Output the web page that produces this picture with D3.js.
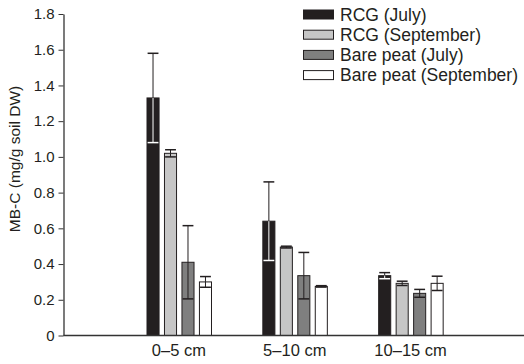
<!DOCTYPE html>
<html>
<head>
<meta charset="utf-8">
<script src="https://cdn.jsdelivr.net/npm/d3@7"></script>
<style>
  body { margin: 0; background: #fff; }
  svg { font-family: "Liberation Sans", Arial, sans-serif; }
</style>
</head>
<body>
<div id="chart"></div>
<script>
const categories = ['0–5 cm', '5–10 cm', '10–15 cm'];
const seriesNames = ['RCG (July)', 'RCG (September)', 'Bare peat (July)', 'Bare peat (September)'];
const rcgJuly = [1.33, 0.64, 0.335];
const rcgJulyErr = [0.25, 0.22, 0.017];
const rcgSep = [1.02, 0.495, 0.292];
const rcgSepErr = [0.02, 0.005, 0.012];
const bareJuly = [0.41, 0.335, 0.236];
const bareJulyErr = [0.205, 0.13, 0.022];
const bareSep = [0.3, 0.275, 0.292];
const bareSepErr = [0.03, 0.004, 0.04];
const yTicks = [0, 0.2, 0.4, 0.6, 0.8, 1.0, 1.2, 1.4, 1.6, 1.8];

const fills = ['#231f20', '#c6c6c6', '#7f7f7f', '#ffffff'];
const innerErrColor = ['#ffffff', '#231f20', '#231f20', '#231f20'];
const values = [rcgJuly, rcgSep, bareJuly, bareSep];
const errors = [rcgJulyErr, rcgSepErr, bareJulyErr, bareSepErr];

const width = 524;
const height = 364;
const axisX = 63.5;
const zeroY = 335.5;

const svg = d3.select('#chart').append('svg')
    .attr('width', width).attr('height', height);

const y = d3.scaleLinear().domain([0, 1.8]).range([zeroY, 14]);
const x0 = d3.scaleBand().domain(categories).range([121, 468.5]);
const x1 = d3.scaleBand().domain(seriesNames).range([26, 90.5]).paddingInner(0.31);

// flatten into bar records
const bars = [];
categories.forEach((c, i) => {
    seriesNames.forEach((s, j) => {
        bars.push({cat: c, series: s, idx: j, value: values[j][i], err: errors[j][i]});
    });
});

// bars
svg.append('g').selectAll('rect').data(bars).enter()
    .append('rect')
    .attr('x', (d) => x0(d.cat) + x1(d.series))
    .attr('y', (d) => y(d.value))
    .attr('width', x1.bandwidth())
    .attr('height', (d) => y(0) - y(d.value))
    .attr('fill', (d) => fills[d.idx])
    .attr('stroke', '#231f20')
    .attr('stroke-width', 1);

// error bars: upper half always dark, lower half (inside the bar) white on the darkest bar
const capW = x1.bandwidth() * 0.9;
const err = svg.append('g').selectAll('g').data(bars).enter().append('g')
    .attr('transform', (d) => 'translate(' + (x0(d.cat) + x1(d.series) + x1.bandwidth() / 2) + ',0)');

err.append('line')
    .attr('y1', (d) => y(d.value)).attr('y2', (d) => y(d.value + d.err))
    .attr('stroke', '#231f20');
err.append('line')
    .attr('x1', -capW / 2).attr('x2', capW / 2)
    .attr('y1', (d) => y(d.value + d.err)).attr('y2', (d) => y(d.value + d.err))
    .attr('stroke', '#231f20').attr('stroke-width', 1.5);
err.append('line')
    .attr('y1', (d) => y(d.value)).attr('y2', (d) => y(d.value - d.err))
    .attr('stroke', (d) => innerErrColor[d.idx]);
err.append('line')
    .attr('x1', -capW / 2).attr('x2', capW / 2)
    .attr('y1', (d) => y(d.value - d.err)).attr('y2', (d) => y(d.value - d.err))
    .attr('stroke', (d) => innerErrColor[d.idx]).attr('stroke-width', 1.5);

// y axis
const yAxis = svg.append('g')
    .attr('transform', 'translate(' + axisX + ',0)')
    .call(d3.axisLeft(y).tickValues(yTicks).tickSizeInner(5).tickSizeOuter(0).tickPadding(4)
        .tickFormat((d) => d === 0 ? '0' : d3.format('.1f')(d)));
yAxis.select('.domain').attr('stroke', '#333').attr('stroke-width', 1.3);
yAxis.selectAll('.tick line').attr('stroke', '#333');
yAxis.selectAll('.tick text').attr('font-size', 15).attr('fill', '#231f20')
    .attr('font-family', '"Liberation Sans", Arial, sans-serif');

// x axis
const xAxis = svg.append('g')
    .attr('transform', 'translate(0,' + zeroY + ')')
    .call(d3.axisBottom(x0).tickSize(0).tickPadding(9));
xAxis.select('.domain').remove();
xAxis.append('line')
    .attr('x1', axisX).attr('x2', width)
    .attr('stroke', '#333').attr('stroke-width', 1.3);
xAxis.selectAll('.tick text').attr('font-size', 16.5).attr('fill', '#231f20')
    .attr('font-family', '"Liberation Sans", Arial, sans-serif');

// y label
svg.append('text')
    .attr('transform', 'translate(20,159) rotate(-90)')
    .attr('text-anchor', 'middle')
    .attr('font-size', 15.5)
    .attr('fill', '#231f20')
    .text('MB-C (mg/g soil DW)');

// legend
const legend = svg.append('g').attr('class', 'legend');
const legendRow = legend.selectAll('g').data(seriesNames).enter().append('g')
    .attr('transform', (d, i) => 'translate(303,' + (14.5 + i * 20.2) + ')');
legendRow.append('rect')
    .attr('x', 0.5).attr('y', -4.5).attr('width', 30).attr('height', 9)
    .attr('fill', (d, i) => fills[i])
    .attr('stroke', '#231f20');
legendRow.append('text')
    .attr('x', 37).attr('dy', '0.36em')
    .attr('font-size', 17.5)
    .attr('fill', '#231f20')
    .text((d) => d);
</script>
</body>
</html>
